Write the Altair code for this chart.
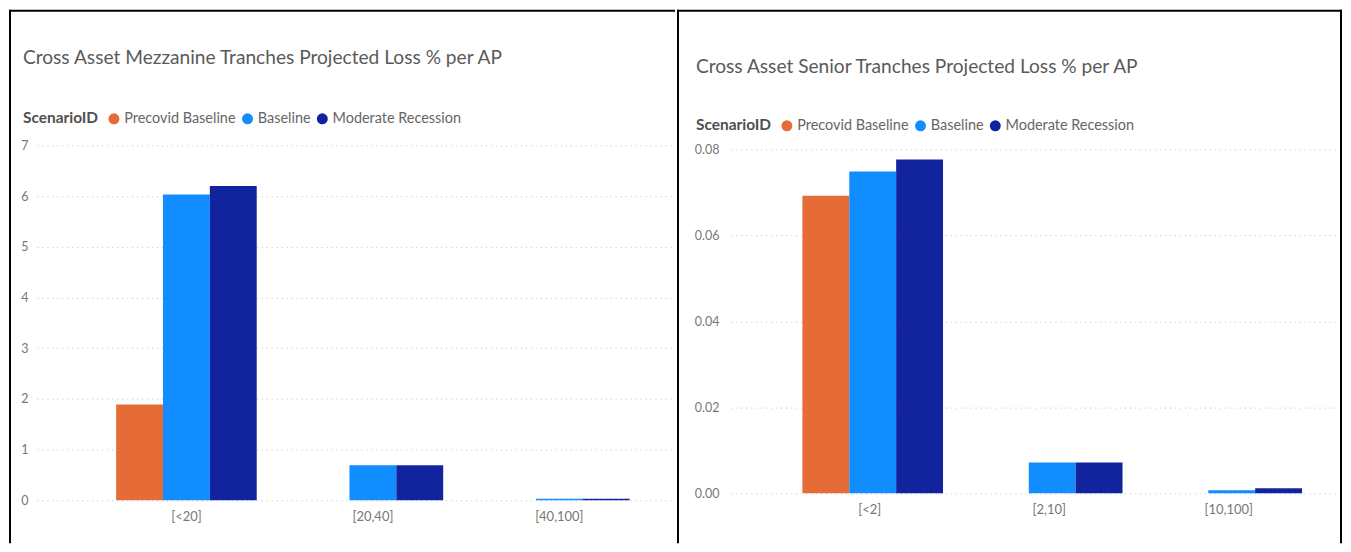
import altair as alt
import pandas as pd

scenarios = ["Precovid Baseline", "Baseline", "Moderate Recession"]
colors = ["#E66C37", "#118DFF", "#12239E"]

mezz_title = "Cross Asset Mezzanine Tranches Projected Loss % per AP"
mezz_buckets = ["[<20]", "[20,40]", "[40,100]"]
mezz_precovid = [1.89, None, None]
mezz_baseline = [6.03, 0.69, 0.03]
mezz_moderate = [6.20, 0.69, 0.03]
mezz_ticks = [0, 1, 2, 3, 4, 5, 6, 7]

senior_title = "Cross Asset Senior Tranches Projected Loss % per AP"
senior_buckets = ["[<2]", "[2,10]", "[10,100]"]
senior_precovid = [0.0693, None, None]
senior_baseline = [0.0749, 0.0072, 0.0007]
senior_moderate = [0.0777, 0.0072, 0.0012]
senior_ticks = [0.0, 0.02, 0.04, 0.06, 0.08]

FONT = "Segoe UI, Lato, sans-serif"


def tidy(buckets, *series):
    rows = []
    for scen, vals in zip(scenarios, series):
        for b, v in zip(buckets, vals):
            if v is not None:
                rows.append({"bucket": b, "scenario": scen, "value": v})
    return pd.DataFrame(rows)


def rule(x, x2, y, y2):
    return alt.Chart(pd.DataFrame({"k": [0]})).mark_rule(
        color="black", strokeWidth=2, strokeCap="square"
    ).encode(x=alt.value(x), x2=alt.value(x2), y=alt.value(y), y2=alt.value(y2))


def panel(df, buckets, ticks, ymax, fmt, title, W, H, top, bottom, left_b, right_b,
          pad_label, pi, po, align, legend_x, legend_y, title_offset):
    bars = alt.Chart(df).mark_bar().encode(
        x=alt.X(
            "bucket:N", sort=buckets,
            scale=alt.Scale(paddingInner=pi, paddingOuter=po, align=align),
            axis=alt.Axis(title=None, labelAngle=0, domain=False, ticks=False, grid=False,
                          labelPadding=10, labelFontSize=13, labelColor="#777",
                          labelFont=FONT),
        ),
        xOffset=alt.XOffset("scenario:N", scale=alt.Scale(domain=scenarios)),
        y=alt.Y(
            "value:Q",
            scale=alt.Scale(domain=[0, ymax], nice=False, zero=True),
            axis=alt.Axis(title=None, values=ticks, format=fmt, domain=False, ticks=False,
                          grid=True, gridDash=[1, 4], gridColor="#c0c0c0", gridWidth=1,
                          labelPadding=pad_label, labelFontSize=12.5, labelColor="#777",
                          labelFont=FONT),
        ),
        color=alt.Color(
            "scenario:N",
            scale=alt.Scale(domain=scenarios, range=colors),
            legend=alt.Legend(
                title="ScenarioID", orient="none", legendX=legend_x, legendY=legend_y,
                direction="horizontal", titleOrient="left", titlePadding=8,
                titleFontSize=15.5, titleFontWeight="bold", titleColor="#505050",
                titleFont=FONT, labelFont=FONT, labelFontSize=14.5, labelColor="#666",
                symbolType="circle", symbolSize=121, symbolStrokeWidth=0,
                labelOffset=3, columnPadding=4,
            ),
        ),
    )
    layers = [
        bars,
        rule(left_b, right_b, top, top),
        rule(left_b, left_b, top, bottom),
    ]
    if right_b > W:
        layers.append(rule(right_b, right_b, top, bottom))
    return alt.layer(*layers).properties(
        width=W, height=H,
        title=alt.TitleParams(text=title, anchor="start", frame="group", dx=legend_x,
                              fontSize=19.2, font=FONT, fontWeight="normal",
                              color="#5a5a5a", offset=title_offset),
    )


mezz_df = tidy(mezz_buckets, mezz_precovid, mezz_baseline, mezz_moderate)
senior_df = tidy(senior_buckets, senior_precovid, senior_baseline, senior_moderate)

left = panel(mezz_df, mezz_buckets, mezz_ticks, 7, "d", mezz_title,
             W=640, H=356, top=-135, bottom=398, left_b=-27, right_b=639,
             pad_label=9, pi=0.246, po=0.334, align=0.636, legend_x=-14, legend_y=-34,
             title_offset=-59)
right = panel(senior_df, senior_buckets, senior_ticks, 0.081, ".2f", senior_title,
              W=610, H=349, top=-135, bottom=398, left_b=-53, right_b=612,
              pad_label=12, pi=0.25, po=0.319, align=0.625, legend_x=-35, legend_y=-27,
              title_offset=-68)

chart = alt.hconcat(left, right, spacing=0).resolve_legend(
    color="independent"
).resolve_scale(color="independent").configure_view(stroke=None).properties(
    padding=0, background="white"
)

chart.save("out.html", embed_options={"renderer": "svg", "actions": False})
